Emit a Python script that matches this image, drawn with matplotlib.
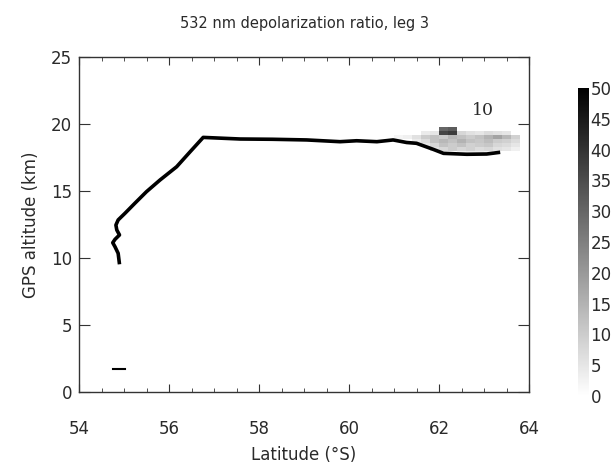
import numpy as np
import matplotlib
matplotlib.use("Agg")
import matplotlib.pyplot as plt
from matplotlib.colors import LinearSegmentedColormap

# flight track (latitude deg S, GPS altitude km)
track_lat = [54.90, 54.87, 54.80, 54.75, 54.80, 54.90, 54.84, 54.82, 54.87, 55.02,
             55.24, 55.50, 55.80, 56.17, 56.47, 56.76, 57.58, 58.30, 59.06, 59.80,
             60.17, 60.62, 60.98, 61.28, 61.50, 61.87, 62.10, 62.62, 63.06, 63.36]
track_alt = [9.53, 10.35, 10.84, 11.14, 11.39, 11.72, 12.09, 12.46, 12.84, 13.33,
             14.08, 14.95, 15.82, 16.81, 17.93, 19.00, 18.88, 18.86, 18.81, 18.68,
             18.75, 18.68, 18.81, 18.62, 18.56, 18.11, 17.81, 17.74, 17.76, 17.89]

# short low-level segment
dash_lat = [54.76, 55.02]
dash_alt = [1.69, 1.69]

# depolarization ratio curtain (%)
lat_edges = [61.0, 61.2, 61.4, 61.6, 61.8, 62.0, 62.2, 62.4, 62.6, 62.8, 63.0, 63.2, 63.4, 63.6, 63.8]
alt_edges = [17.7, 18.0, 18.3, 18.6, 18.9, 19.2, 19.5, 19.8]
nan = np.nan
depol = [
    [nan, nan, nan, nan, nan, nan, nan, 3, 4, 4, 3, nan, nan, nan],
    [nan, nan, nan, nan, 6, 8, 10, 8, 9, 7, 8, 6, 5, 3],
    [nan, nan, nan, 5, 8, 12, 10, 12, 9, 10, 11, 8, 7, 5],
    [nan, nan, 4, 7, 12, 14, 12, 15, 12, 11, 13, 10, 9, 7],
    [2, 3, 6, 10, 12, 10, 14, 12, 10, 12, 15, 18, 14, 9],
    [nan, nan, nan, 4, 5, 36, 38, 8, 6, 5, 7, 6, 5, nan],
    [nan, nan, nan, nan, nan, 30, 32, nan, nan, nan, nan, nan, nan, nan],
]
cbar_ticks = [0, 5, 10, 15, 20, 25, 30, 35, 40, 45, 50]

cmap = LinearSegmentedColormap.from_list("wb", ["#ffffff", "#000000"])
txt = "#2a2a2a"

fig = plt.figure(figsize=(6.13, 4.68), dpi=100)
ax = fig.add_axes([79 / 613, 76 / 468, 450 / 613, 335 / 468])

mesh = ax.pcolormesh(lat_edges, alt_edges, np.ma.masked_invalid(depol),
                     cmap=cmap, vmin=0, vmax=50, shading="flat")
ax.plot(track_lat, track_alt, color="black", lw=2.6, solid_capstyle="butt")
ax.plot(dash_lat, dash_alt, color="black", lw=1.5)
ax.text(62.97, 21.0, "10", family="DejaVu Serif", fontsize=12.5, ha="center", va="center",
        color=txt)

ax.set_xlim(54, 64)
ax.set_ylim(0, 25)
ax.set_xticks(np.arange(54, 64.1, 2))
ax.set_xticks(np.arange(54, 64.1, 0.5), minor=True)
ax.set_yticks(np.arange(0, 25.1, 5))
for s in ax.spines.values():
    s.set_linewidth(1.0)
    s.set_color("#333333")
ax.tick_params(axis="both", which="both", direction="in", top=True, right=True,
               color="#333333", labelcolor=txt)
ax.tick_params(axis="x", which="major", length=6, pad=20, labelsize=12)
ax.tick_params(axis="x", which="minor", length=3)
ax.tick_params(axis="y", which="major", length=8, pad=5, labelsize=12)
ax.set_xlabel("Latitude (\u00b0S)", fontsize=12, labelpad=6, color=txt)
ax.set_ylabel("GPS altitude (km)", fontsize=12, labelpad=8, color=txt)
ax.set_title("532 nm depolarization ratio, leg 3", fontsize=10.5, pad=21, color=txt)

cax = fig.add_axes([578 / 613, 72 / 468, 11 / 613, 308 / 468])
cb = fig.colorbar(mesh, cax=cax, ticks=cbar_ticks)
cb.outline.set_visible(False)
cax.tick_params(length=0, labelsize=12, pad=1, labelcolor=txt)

fig.savefig("out.png", dpi=100)
